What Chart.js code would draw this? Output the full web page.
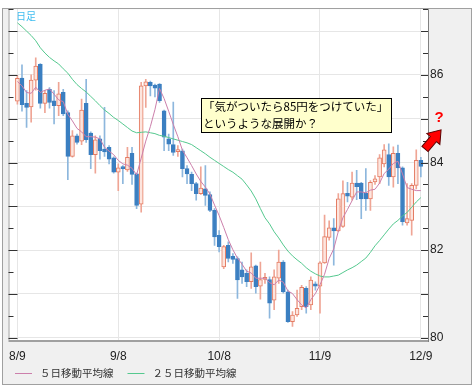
<!DOCTYPE html>
<html>
<head>
<meta charset="utf-8">
<script src="https://cdn.jsdelivr.net/npm/chart.js@4.4.1/dist/chart.umd.min.js"></script>
<style>
  html, body { margin: 0; padding: 0; background: #fff; }
  canvas { display: block; }
</style>
</head>
<body>
<canvas id="chart" width="474" height="388"></canvas>
<script>
// x tick positions (trading day index) and their labels
const tickIdx = [0, 22, 44, 66, 88];
const tickLabels = ['8/9', '9/8', '10/8', '11/9', '12/9'];

// y ticks (every 0.5), only even numbers get a label
const yTicks = [80, 80.5, 81, 81.5, 82, 82.5, 83, 83.5, 84, 84.5, 85, 85.5, 86, 86.5, 87, 87.5];
const yLabels = [80, 82, 84, 86];

// daily candles
const opens = [
  85.40, 85.93, 85.35, 85.27, 85.88, 86.24, 85.35, 85.67, 85.41, 85.30,
  85.60, 85.14, 84.14, 84.61, 84.49, 85.35, 84.67, 84.18, 84.54, 84.31,
  84.35, 84.11, 83.78, 83.90, 83.83, 84.21, 83.74, 83.05, 85.75, 85.83,
  85.77, 85.79, 85.18, 84.54, 84.41, 84.25, 84.27, 83.86, 83.73, 83.52,
  83.29, 83.40, 83.27, 82.91, 82.34, 81.62, 82.11, 81.86, 81.81, 81.55,
  81.47, 81.28, 81.64, 81.18, 81.33, 81.33, 80.86, 81.36, 81.73, 81.05,
  80.37, 80.52, 80.71, 81.13, 80.75, 81.23, 81.18, 81.71, 82.29, 82.51,
  82.44, 82.54, 83.30, 83.21, 83.53, 83.53, 83.30, 83.17, 83.56, 83.67,
  83.97, 84.18, 83.67, 84.21, 83.88, 82.62, 82.68, 83.48, 84.05
];
const highs = [
  85.98, 86.23, 85.64, 86.00, 86.39, 86.26, 85.65, 85.71, 85.64, 85.83,
  85.67, 85.18, 84.73, 84.65, 85.45, 85.90, 84.70, 84.61, 84.61, 85.26,
  84.39, 84.13, 83.97, 83.93, 84.35, 84.35, 83.76, 85.83, 85.90, 85.86,
  85.79, 85.80, 85.20, 84.65, 85.38, 84.39, 84.31, 83.93, 83.78, 83.55,
  83.90, 83.93, 83.33, 82.95, 82.45, 82.11, 82.19, 81.92, 81.85, 81.73,
  81.55, 81.94, 81.66, 81.73, 81.47, 81.39, 81.55, 82.00, 81.76, 81.09,
  80.60, 81.09, 81.20, 81.17, 81.39, 81.28, 81.74, 82.80, 82.67, 82.72,
  83.29, 83.58, 83.55, 83.78, 83.82, 83.55, 83.86, 83.59, 83.70, 84.18,
  84.41, 84.43, 84.36, 84.40, 83.90, 83.52, 83.52, 84.29, 84.12
];
const lows = [
  85.33, 85.17, 84.80, 84.92, 85.65, 85.24, 85.14, 85.24, 84.88, 85.07,
  85.07, 83.61, 84.12, 84.42, 84.41, 84.46, 83.86, 83.76, 84.08, 84.14,
  83.97, 83.76, 83.36, 83.52, 83.80, 83.50, 82.95, 82.87, 85.26, 85.52,
  85.50, 85.37, 84.27, 84.27, 84.16, 84.14, 83.67, 83.52, 83.36, 83.14,
  83.27, 83.02, 82.88, 82.11, 81.96, 81.58, 81.73, 81.70, 80.90, 81.24,
  81.17, 81.13, 81.02, 80.88, 81.24, 80.45, 80.64, 81.24, 81.02, 80.35,
  80.26, 80.49, 80.64, 80.56, 80.64, 81.09, 80.56, 81.70, 82.23, 81.66,
  82.42, 82.52, 83.10, 83.14, 83.15, 82.72, 82.91, 82.91, 83.50, 83.52,
  83.90, 83.48, 83.44, 83.52, 82.57, 82.57, 82.34, 83.40, 83.67
];
const closes = [
  85.92, 85.32, 85.26, 85.88, 86.20, 85.35, 85.58, 85.37, 85.30, 85.57,
  85.11, 84.14, 84.61, 84.46, 85.20, 84.52, 84.18, 84.52, 84.27, 84.24,
  84.08, 83.78, 83.88, 83.86, 84.12, 83.73, 83.02, 85.75, 85.84, 85.75,
  85.70, 85.41, 84.58, 84.42, 84.23, 84.29, 83.86, 83.74, 83.52, 83.29,
  83.42, 83.25, 82.91, 82.30, 82.08, 82.08, 81.81, 81.79, 81.32, 81.39,
  81.28, 81.62, 81.17, 81.33, 81.38, 80.79, 81.39, 81.73, 81.05, 80.37,
  80.52, 80.67, 81.15, 80.71, 81.32, 81.18, 81.71, 82.31, 82.51, 82.44,
  83.17, 83.29, 83.23, 83.53, 83.45, 83.17, 83.17, 83.55, 83.63, 84.11,
  84.29, 83.67, 84.21, 83.88, 82.65, 82.72, 83.48, 84.05, 83.91
];

// moving average lines
const ma5 = [
  85.85, 85.75, 85.60, 85.58, 85.72, 85.60, 85.65, 85.68, 85.56, 85.43,
  85.39, 85.10, 84.95, 84.78, 84.70, 84.59, 84.59, 84.58, 84.54, 84.35,
  84.26, 84.18, 84.05, 83.97, 83.94, 83.87, 83.72, 84.10, 84.49, 84.82,
  85.21, 85.69, 85.46, 85.17, 84.87, 84.59, 84.28, 84.11, 83.93, 83.74,
  83.57, 83.44, 83.28, 83.03, 82.79, 82.52, 82.24, 82.01, 81.82, 81.68,
  81.52, 81.48, 81.36, 81.36, 81.36, 81.26, 81.21, 81.32, 81.27, 81.07,
  81.01, 80.87, 80.75, 80.68, 80.87, 81.01, 81.21, 81.45, 81.81, 82.03,
  82.43, 82.74, 82.93, 83.13, 83.33, 83.33, 83.31, 83.37, 83.39, 83.53,
  83.75, 83.85, 83.98, 84.03, 83.74, 83.43, 83.39, 83.36, 83.36
];
const ma25 = [
  87.19, 87.10, 87.00, 86.90, 86.78, 86.62, 86.50, 86.40, 86.32, 86.25,
  86.14, 86.04, 85.90, 85.78, 85.69, 85.61, 85.51, 85.41, 85.30, 85.20,
  85.12, 85.03, 84.96, 84.88, 84.80, 84.72, 84.68, 84.69, 84.70, 84.68,
  84.66, 84.62, 84.60, 84.57, 84.54, 84.51, 84.48, 84.45, 84.41, 84.34,
  84.27, 84.20, 84.12, 84.05, 83.98, 83.91, 83.84, 83.78, 83.70, 83.62,
  83.49, 83.35, 83.17, 82.95, 82.74, 82.60, 82.42, 82.28, 82.12, 81.98,
  81.87, 81.78, 81.70, 81.60, 81.52, 81.46, 81.41, 81.39, 81.39, 81.41,
  81.43, 81.49, 81.55, 81.60, 81.66, 81.74, 81.82, 81.95, 82.10, 82.22,
  82.35, 82.48, 82.60, 82.68, 82.78, 82.86, 82.98, 83.10, 83.20
];

const up = closes.map((c, i) => c >= opens[i]);
const wickColors = up.map(u => (u ? '#efa595' : '#8db7dd'));
const bodyFill = up.map(u => (u ? '#fde5de' : '#3b7fc1'));
const bodyLine = up.map(u => (u ? '#e47b62' : '#3b7fc1'));

const tickFont = { family: '"Liberation Sans", Arial, sans-serif', size: 12 };
const jpFont = '"Noto Sans CJK JP", sans-serif';

// frame, tick marks, legend and the note box
const decorations = {
  id: 'decorations',
  beforeDraw(chart) {
    const { ctx, chartArea: a } = chart;
    ctx.save();
    ctx.fillStyle = '#ffffff';
    ctx.fillRect(0, 0, chart.width, chart.height);
    ctx.fillStyle = '#f0f0f0';
    ctx.fillRect(2, 8, 470, 377);
    ctx.fillStyle = '#ffffff';
    ctx.fillRect(a.left, a.top, a.right - a.left, a.bottom - a.top);
    ctx.restore();
  },
  afterDraw(chart) {
    const { ctx, chartArea: a } = chart;
    const y = chart.scales.y;
    ctx.save();

    // borders
    ctx.strokeStyle = '#a0a0a0';
    ctx.lineWidth = 1;
    ctx.strokeRect(2.5, 8.5, 469, 376);
    ctx.beginPath();
    ctx.moveTo(a.left + 0.5, a.top);
    ctx.lineTo(a.left + 0.5, a.bottom);
    ctx.stroke();
    ctx.lineWidth = 2;
    ctx.beginPath();
    ctx.moveTo(a.left, a.bottom + 1);
    ctx.lineTo(a.right, a.bottom + 1);
    ctx.stroke();
    ctx.strokeStyle = '#808080';
    ctx.lineWidth = 1;
    ctx.beginPath();
    ctx.moveTo(a.right + 0.5, a.top);
    ctx.lineTo(a.right + 0.5, a.bottom + 2);
    ctx.stroke();

    // inner tick marks on both sides
    ctx.strokeStyle = '#333333';
    y.ticks.forEach(t => {
      const py = Math.round(y.getPixelForValue(t.value)) + 0.5;
      const major = Number.isInteger(t.value);
      ctx.beginPath();
      ctx.moveTo(a.left, py);
      ctx.lineTo(a.left + (major ? 9 : 5), py);
      ctx.moveTo(a.right, py);
      ctx.lineTo(a.right - (major ? 7 : 5), py);
      ctx.stroke();
    });

    // title
    ctx.fillStyle = '#3fbdf0';
    ctx.font = '10px ' + jpFont;
    ctx.textBaseline = 'middle';
    ctx.textAlign = 'left';
    ctx.fillText('日足', 16, 16);

    // legend for the two moving averages
    ctx.font = '10.5px ' + jpFont;
    let lx = 15;
    chart.data.datasets.filter(d => d.type === 'line').forEach(d => {
      ctx.strokeStyle = d.borderColor;
      ctx.beginPath();
      ctx.moveTo(lx, 373.5);
      ctx.lineTo(lx + 17, 373.5);
      ctx.stroke();
      ctx.fillStyle = '#333333';
      ctx.fillText(d.label, lx + 25, 373);
      lx += 25 + ctx.measureText(d.label).width + 14;
    });

    // note box
    ctx.fillStyle = '#ffffcc';
    ctx.fillRect(201, 98, 191, 35);
    ctx.strokeStyle = '#000000';
    ctx.strokeRect(201.5, 98.5, 190, 34);
    ctx.fillStyle = '#000000';
    ctx.font = '11.5px ' + jpFont;
    ctx.fillText('「気がついたら85円をつけていた」', 203, 107);
    ctx.fillText('というような展開か？', 203, 124);

    // red arrow pointing up-right
    ctx.translate(425, 149);
    ctx.rotate(-50 * Math.PI / 180);
    ctx.beginPath();
    ctx.moveTo(0, -4);
    ctx.lineTo(13, -4);
    ctx.lineTo(13, -8.5);
    ctx.lineTo(25, 0);
    ctx.lineTo(13, 8.5);
    ctx.lineTo(13, 4);
    ctx.lineTo(0, 4);
    ctx.closePath();
    ctx.fillStyle = '#ff0000';
    ctx.fill();
    ctx.strokeStyle = '#5a0000';
    ctx.stroke();
    ctx.setTransform(1, 0, 0, 1, 0, 0);

    ctx.fillStyle = '#ff0000';
    ctx.font = 'bold 15px "Liberation Sans", Arial, sans-serif';
    ctx.textAlign = 'center';
    ctx.fillText('?', 439, 118);
    ctx.restore();
  }
};

new Chart(document.getElementById('chart'), {
  type: 'bar',
  data: {
    datasets: [
      {
        type: 'line',
        label: '５日移動平均線',
        data: ma5.map((v, i) => ({ x: i, y: v })),
        borderColor: '#cc7fab',
        borderWidth: 1,
        pointRadius: 0,
        tension: 0,
        order: 0
      },
      {
        type: 'line',
        label: '２５日移動平均線',
        data: ma25.map((v, i) => ({ x: i, y: v })),
        borderColor: '#55c98f',
        borderWidth: 1,
        pointRadius: 0,
        tension: 0,
        order: 0
      },
      {
        type: 'bar',
        label: 'body',
        data: opens.map((o, i) => ({ x: i, y: [o, closes[i]] })),
        backgroundColor: bodyFill,
        borderColor: bodyLine,
        borderWidth: 1,
        borderSkipped: false,
        barThickness: 4,
        minBarLength: 2,
        grouped: false,
        order: 1
      },
      {
        type: 'bar',
        label: 'wick',
        data: lows.map((l, i) => ({ x: i, y: [l, highs[i]] })),
        backgroundColor: wickColors,
        barThickness: 1,
        grouped: false,
        order: 2
      }
    ]
  },
  options: {
    responsive: false,
    animation: false,
    devicePixelRatio: 1,
    layout: { padding: { left: 3, top: 8, right: 0, bottom: 3 } },
    plugins: {
      legend: { display: false },
      tooltip: { enabled: false }
    },
    scales: {
      x: {
        type: 'linear',
        min: -1.94,
        max: 89.56,
        offset: false,
        afterBuildTicks: s => { s.ticks = tickIdx.map(v => ({ value: v })); },
        afterFit: s => { s.height = 45; },
        ticks: {
          autoSkip: false,
          maxRotation: 0,
          padding: 9,
          color: '#222222',
          font: tickFont,
          callback: v => tickLabels[tickIdx.indexOf(v)]
        },
        grid: { color: '#e6e6e6', drawTicks: false, offset: false },
        border: { display: false }
      },
      y: {
        position: 'right',
        min: 79.95,
        max: 87.5,
        afterBuildTicks: s => { s.ticks = yTicks.map(v => ({ value: v })); },
        afterFit: s => { s.width = 46; },
        ticks: {
          autoSkip: false,
          padding: 2,
          color: '#222222',
          font: tickFont,
          callback: v => (yLabels.includes(v) ? String(v) : '')
        },
        grid: {
          color: c => (Number.isInteger(c.tick.value) ? '#e6e6e6' : 'rgba(0,0,0,0)'),
          drawTicks: false
        },
        border: { display: false }
      }
    }
  },
  plugins: [decorations]
});
</script>
</body>
</html>
